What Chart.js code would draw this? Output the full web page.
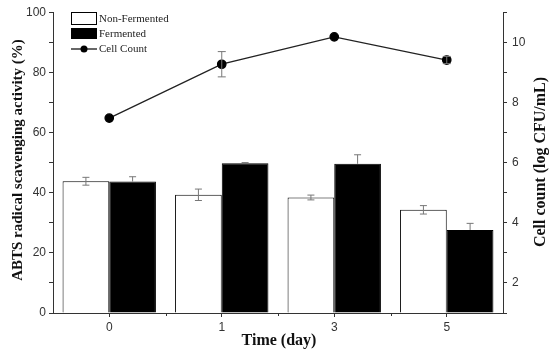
<!DOCTYPE html>
<html>
<head>
<meta charset="utf-8">
<script src="https://cdn.jsdelivr.net/npm/chart.js@4/dist/chart.umd.min.js"></script>
<style>
  html, body { margin: 0; padding: 0; background: #fff; }
  #wrap { width: 550px; height: 357px; }
</style>
</head>
<body>
<div id="wrap"><canvas id="abtsChart" width="550" height="357"></canvas></div>
<script>
const days = ['0', '1', '3', '5'];
const nonFermented = [43.8, 39.3, 38.4, 34.3];
const nonFermentedErr = [1.3, 1.9, 0.8, 1.4];
const fermented = [43.7, 49.8, 49.6, 27.6];
const fermentedErr = [1.6, 0.2, 3.0, 2.2];
const cellCount = [7.48, 9.27, 10.18, 9.41];
const cellCountErr = [0, 0.42, 0, 0.12];

const serif = '"Liberation Serif", "Times New Roman", serif';
const sans = '"Liberation Sans", Arial, sans-serif';

function vLineErr(ctx, x, yTop, yBot, cap) {
  ctx.beginPath();
  ctx.moveTo(x, yTop); ctx.lineTo(x, yBot);
  ctx.moveTo(x - cap, yTop); ctx.lineTo(x + cap, yTop);
  ctx.moveTo(x - cap, yBot); ctx.lineTo(x + cap, yBot);
  ctx.stroke();
}

const extras = {
  id: 'extras',
  afterDatasetsDraw(chart) {
    const ctx = chart.ctx;
    const y = chart.scales.y, y1 = chart.scales.y1, x = chart.scales.x;
    ctx.save();
    ctx.strokeStyle = '#777';
    ctx.lineWidth = 1;
    // bar error bars
    chart.getDatasetMeta(0).data.forEach((bar, i) => {
      const top = y.getPixelForValue(nonFermented[i] + nonFermentedErr[i]);
      const bot = y.getPixelForValue(nonFermented[i] - nonFermentedErr[i]);
      vLineErr(ctx, bar.x, top, bot, 3.5);
    });
    chart.getDatasetMeta(1).data.forEach((bar, i) => {
      const top = y.getPixelForValue(fermented[i] + fermentedErr[i]);
      const mid = y.getPixelForValue(fermented[i]);
      ctx.beginPath();
      ctx.moveTo(bar.x, mid); ctx.lineTo(bar.x, top);
      ctx.moveTo(bar.x - 3.5, top); ctx.lineTo(bar.x + 3.5, top);
      ctx.stroke();
    });
    chart.getDatasetMeta(2).data.forEach((pt, i) => {
      if (!cellCountErr[i]) return;
      const top = y1.getPixelForValue(cellCount[i] + cellCountErr[i]);
      const bot = y1.getPixelForValue(cellCount[i] - cellCountErr[i]);
      vLineErr(ctx, pt.x, top, bot, 4);
    });

    // minor x ticks at category boundaries
    ctx.strokeStyle = '#333';
    const half = (x.getPixelForValue(1) - x.getPixelForValue(0)) / 2;
    for (let i = 0; i < days.length - 1; i++) {
      const px = Math.round(x.getPixelForValue(i) + half) + 0.5;
      ctx.beginPath();
      ctx.moveTo(px, x.top); ctx.lineTo(px, x.top + 3);
      ctx.stroke();
    }

    // legend
    const lx = 71, ly = 12;
    ctx.fillStyle = '#fff';
    ctx.strokeStyle = '#000';
    ctx.fillRect(lx, ly, 25, 12);
    ctx.strokeRect(lx + 0.5, ly + 0.5, 25, 12);
    ctx.fillStyle = '#000';
    ctx.fillRect(lx, ly + 16, 26, 11);
    ctx.beginPath();
    ctx.lineWidth = 1.2;
    ctx.moveTo(lx, ly + 37); ctx.lineTo(lx + 26, ly + 37);
    ctx.stroke();
    ctx.beginPath();
    ctx.arc(lx + 13, ly + 37, 3.5, 0, Math.PI * 2);
    ctx.fill();
    ctx.font = '11px ' + serif;
    ctx.fillStyle = '#222';
    ctx.textBaseline = 'middle';
    ctx.textAlign = 'left';
    ctx.fillText('Non-Fermented', lx + 28, ly + 7);
    ctx.fillText('Fermented', lx + 28, ly + 22);
    ctx.fillText('Cell Count', lx + 28, ly + 37);

    // axis titles
    ctx.fillStyle = '#111';
    ctx.textAlign = 'center';
    ctx.font = 'bold 16px ' + serif;
    ctx.fillText('Time (day)', 279, 341);
    ctx.save();
    ctx.translate(18, 160);
    ctx.rotate(-Math.PI / 2);
    ctx.font = 'bold 15px ' + serif;
    ctx.fillText('ABTS radical scavenging activity (%)', 0, 0);
    ctx.restore();
    ctx.save();
    ctx.translate(541, 162);
    ctx.rotate(-Math.PI / 2);
    ctx.font = 'bold 16px ' + serif;
    ctx.fillText('Cell count (log CFU/mL)', 0, 0);
    ctx.restore();
    ctx.restore();
  }
};

new Chart(document.getElementById('abtsChart').getContext('2d'), {
  type: 'bar',
  data: {
    labels: days,
    datasets: [
      {
        label: 'Non-Fermented',
        data: nonFermented,
        backgroundColor: '#fff',
        borderColor: '#000',
        borderWidth: 1,
        yAxisID: 'y',
        order: 1
      },
      {
        label: 'Fermented',
        data: fermented,
        backgroundColor: '#000',
        borderColor: '#000',
        borderWidth: 1,
        yAxisID: 'y',
        order: 1
      },
      {
        type: 'line',
        label: 'Cell Count',
        data: cellCount,
        borderColor: '#222',
        borderWidth: 1.3,
        pointBackgroundColor: '#000',
        pointBorderColor: '#000',
        pointRadius: 4.2,
        yAxisID: 'y1',
        order: 0
      }
    ]
  },
  options: {
    responsive: false,
    animation: false,
    layout: { padding: { top: 8, bottom: 0, left: 0, right: 0 } },
    plugins: { legend: { display: false }, tooltip: { enabled: false } },
    datasets: { bar: { categoryPercentage: 0.83, barPercentage: 1 } },
    scales: {
      x: {
        grid: { display: true, drawOnChartArea: false, tickLength: 4, color: '#333', offset: false },
        border: { color: '#333', width: 1 },
        ticks: { color: '#333', font: { family: sans, size: 12 }, padding: 3 },
        afterFit(scale) { scale.height = 44; }
      },
      y: {
        position: 'left',
        min: 0, max: 100,
        grid: { drawOnChartArea: false, tickLength: 4, color: '#333' },
        border: { color: '#333', width: 1 },
        ticks: {
          stepSize: 10,
          color: '#333',
          font: { family: sans, size: 12 },
          padding: 3,
          callback: v => (v % 20 === 0 ? v : '')
        },
        afterFit(scale) { scale.width = 53; }
      },
      y1: {
        position: 'right',
        min: 1, max: 11,
        grid: { drawOnChartArea: false, tickLength: 4, color: '#333' },
        border: { color: '#333', width: 1 },
        ticks: {
          stepSize: 1,
          color: '#333',
          font: { family: sans, size: 12 },
          padding: 5,
          callback: v => (v % 2 === 0 ? v : '')
        },
        afterFit(scale) { scale.width = 47; }
      }
    }
  },
  plugins: [extras]
});
</script>
</body>
</html>
